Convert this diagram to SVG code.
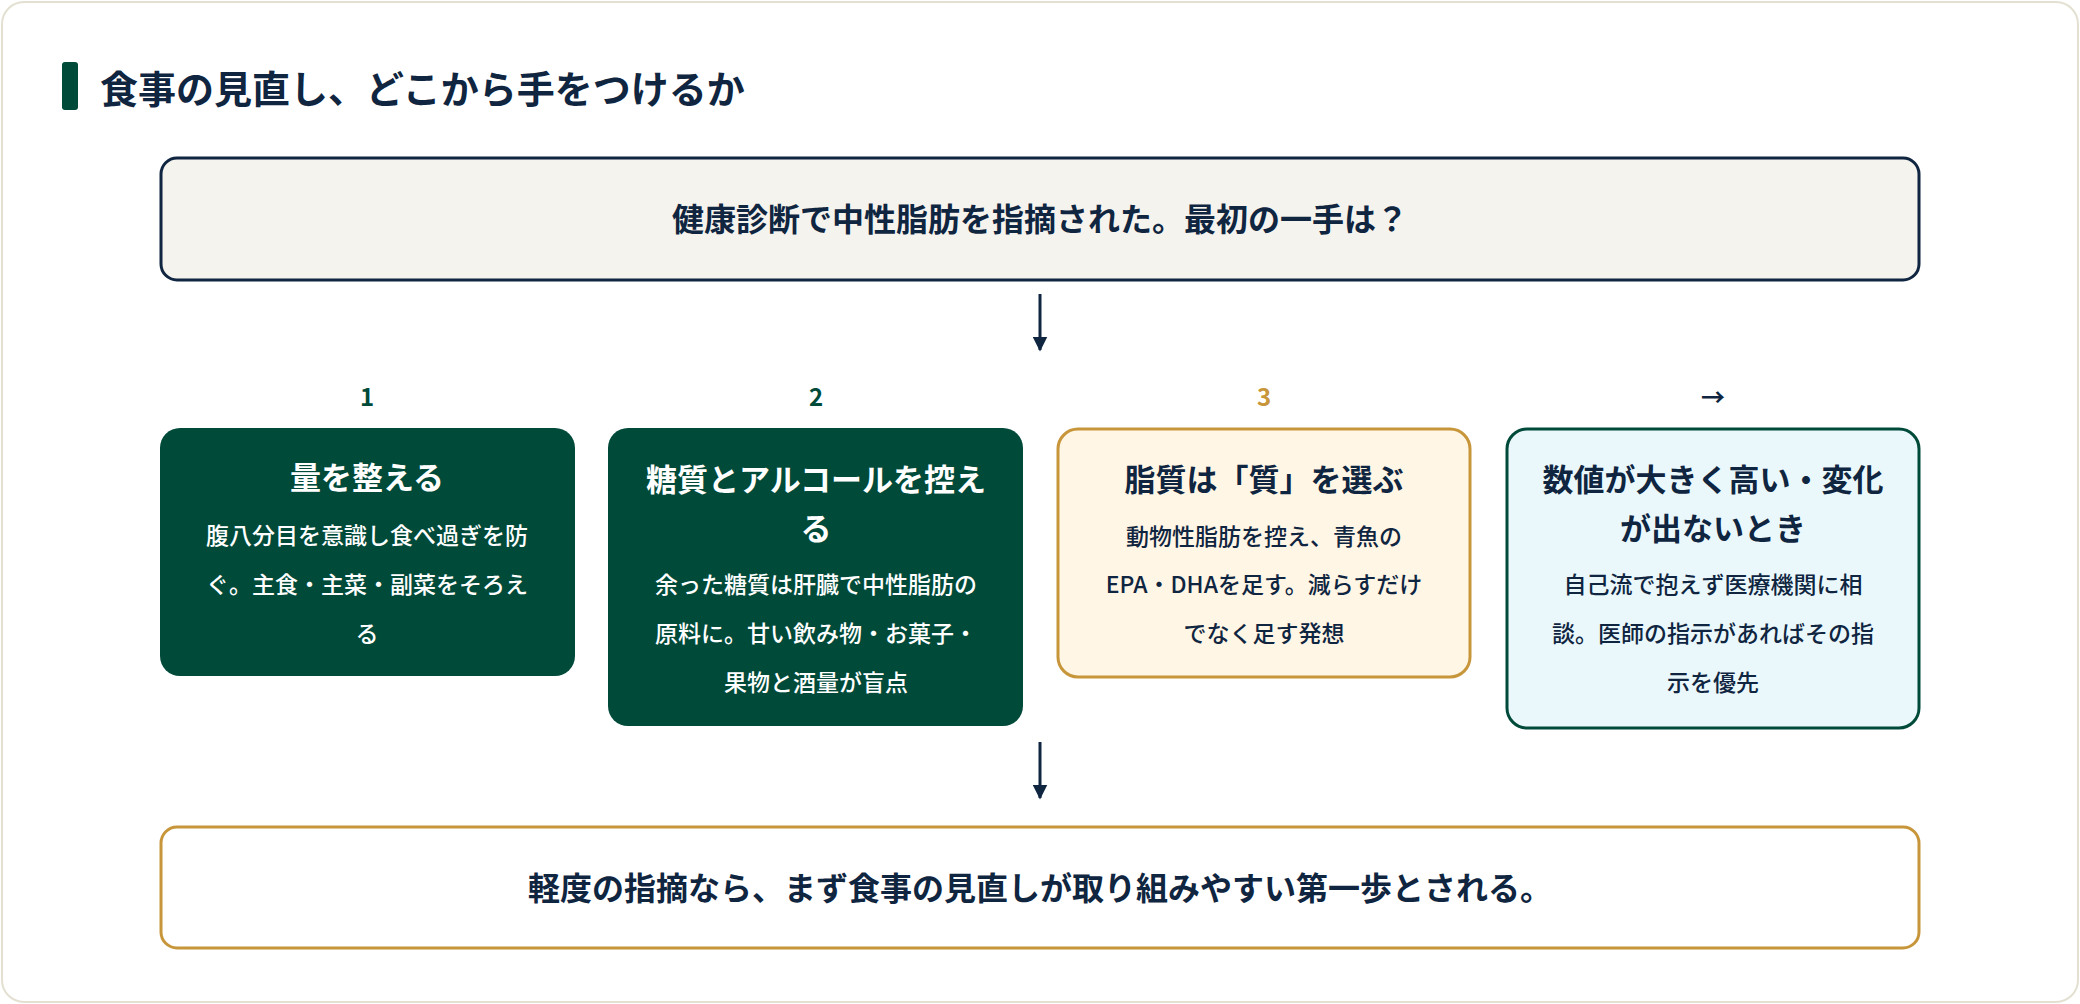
<svg xmlns="http://www.w3.org/2000/svg" width="2080" height="1004" viewBox="0 0 2080 1004">
<defs>
<style>
text{font-family:"Noto Sans CJK JP","Noto Sans",sans-serif;text-anchor:middle;}
.t{font-size:31px;font-weight:700;}
.d{font-size:23px;font-weight:500;}
.n{font-size:24px;font-weight:700;}
.w{fill:#ffffff;}
.k{fill:#0f2540;}
</style>
<marker id="ah" viewBox="0 0 10 10" refX="9" refY="5" markerWidth="5" markerHeight="5" orient="auto"><path d="M0,0L10,5L0,10z" fill="#0f2540"/></marker>
</defs>
<rect x="2" y="2" width="2076" height="1000" rx="22" fill="#ffffff" stroke="#e3e0d2" stroke-width="2"/>
<g id="title">
<rect x="62" y="62" width="16" height="48" rx="3" fill="#004a3a"/>
<text x="100" y="103" style="text-anchor:start;font-size:38px;font-weight:700" fill="#0f2540">食事の見直し、どこから手をつけるか</text>
</g>
<g id="top">
<rect x="161" y="158" width="1758" height="122" rx="16" fill="#f5f3ee" stroke="#0f2540" stroke-width="3"/>
<text x="1040" y="231" class="k" style="font-size:32px;font-weight:700">健康診断で中性脂肪を指摘された。最初の一手は？</text>
</g>
<g id="connectors" stroke="#0f2540" stroke-width="3" fill="none">
<line x1="1040" y1="294" x2="1040" y2="350" marker-end="url(#ah)"/>
<line x1="1040" y1="742" x2="1040" y2="798" marker-end="url(#ah)"/>
</g>
<g id="n1">
<text x="367" y="406" class="n" fill="#004a3a">1</text>
<rect x="160" y="428" width="415" height="248" rx="20" fill="#004a3a"/>
<text x="367" y="489" class="t w">量を整える</text>
<text x="367" y="544" class="d w">腹八分目を意識し食べ過ぎを防</text>
<text x="367" y="593" class="d w">ぐ。主食・主菜・副菜をそろえ</text>
<text x="367" y="642" class="d w">る</text>
</g>
<g id="n2">
<text x="816" y="406" class="n" fill="#004a3a">2</text>
<rect x="608" y="428" width="415" height="298" rx="20" fill="#004a3a"/>
<text x="816" y="491" class="t w">糖質とアルコールを控え</text>
<text x="816" y="540" class="t w">る</text>
<text x="816" y="593" class="d w">余った糖質は肝臓で中性脂肪の</text>
<text x="816" y="642" class="d w">原料に。甘い飲み物・お菓子・</text>
<text x="816" y="691" class="d w">果物と酒量が盲点</text>
</g>
<g id="n3">
<text x="1264" y="406" class="n" fill="#c8963a">3</text>
<rect x="1058" y="429" width="412" height="248" rx="20" fill="#fff6e6" stroke="#c8963a" stroke-width="3"/>
<text x="1264" y="491" class="t k">脂質は「質」を選ぶ</text>
<text x="1264" y="545" class="d k">動物性脂肪を控え、青魚の</text>
<text x="1264" y="593" class="d k">EPA・DHAを足す。減らすだけ</text>
<text x="1264" y="642" class="d k">でなく足す発想</text>
</g>
<g id="n4">
<text x="1713" y="406" class="n" fill="#0f2540">→</text>
<rect x="1507" y="429" width="412" height="299" rx="20" fill="#eaf8fc" stroke="#004a3a" stroke-width="3"/>
<text x="1713" y="491" class="t k">数値が大きく高い・変化</text>
<text x="1713" y="540" class="t k">が出ないとき</text>
<text x="1713" y="593" class="d k">自己流で抱えず医療機関に相</text>
<text x="1713" y="642" class="d k">談。医師の指示があればその指</text>
<text x="1713" y="691" class="d k">示を優先</text>
</g>
<g id="bottom">
<rect x="161" y="827" width="1758" height="121" rx="16" fill="#ffffff" stroke="#c8963a" stroke-width="3"/>
<text x="1040" y="900" class="k" style="font-size:32px;font-weight:700">軽度の指摘なら、まず食事の見直しが取り組みやすい第一歩とされる。</text>
</g>
</svg>
